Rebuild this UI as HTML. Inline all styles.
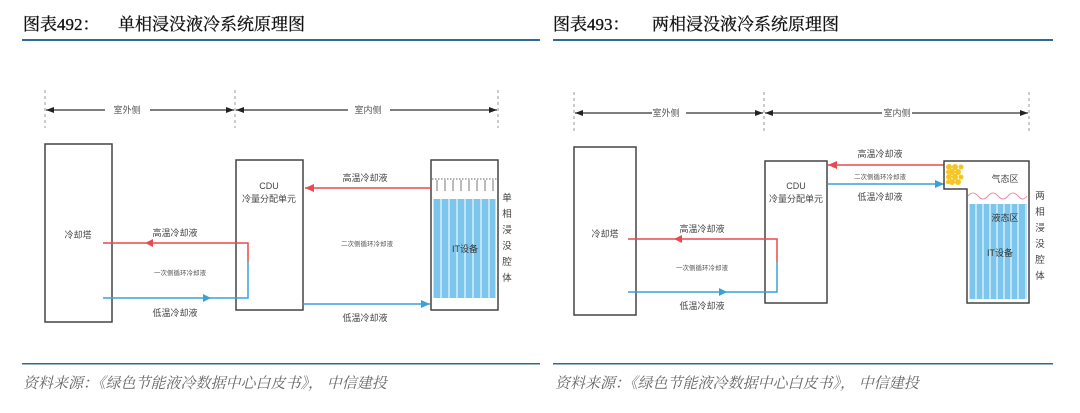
<!DOCTYPE html>
<html><head><meta charset="utf-8"><style>
html,body{margin:0;padding:0;background:#fff;}
body{width:1080px;height:408px;overflow:hidden;}
svg text{font-family:"Liberation Sans","Noto Sans CJK SC",sans-serif;}
.t{font-family:"Liberation Serif","Noto Serif CJK SC",serif !important;font-size:17px;fill:#111;stroke:#111;stroke-width:0.3;}
.f{font-family:"Liberation Serif","Noto Serif CJK SC",serif !important;font-size:15px;fill:#666;font-style:italic;}
</style></head><body>
<svg width="1080" height="408" viewBox="0 0 1080 408" xmlns="http://www.w3.org/2000/svg">
<defs>
<marker id="ak" markerWidth="8" markerHeight="6" refX="8" refY="3" orient="auto" markerUnits="userSpaceOnUse"><path d="M0,0 L8,3 L0,6z" fill="#222"/></marker>
</defs>
<text class="t" x="23" y="30">图表492：</text>
<text class="t" x="118" y="30">单相浸没液冷系统原理图</text>
<text class="t" x="553" y="30">图表493：</text>
<text class="t" x="652" y="30">两相浸没液冷系统原理图</text>
<rect x="22" y="39" width="518" height="2" fill="#2e6a96"/>
<rect x="553" y="39" width="500" height="2" fill="#2e6a96"/>
<rect x="22" y="363" width="518" height="1.5" fill="#2e6a96"/>
<rect x="553" y="363" width="500" height="1.5" fill="#2e6a96"/>
<text class="f" x="23" y="388">资料来源：《绿色节能液冷数据中心白皮书》， 中信建投</text>
<text class="f" x="555" y="388">资料来源：《绿色节能液冷数据中心白皮书》， 中信建投</text>

<g stroke="#999" stroke-dasharray="3,3" stroke-width="1">
<line x1="45" y1="90" x2="45" y2="128"/><line x1="235" y1="90" x2="235" y2="128"/><line x1="498" y1="90" x2="498" y2="128"/>
<line x1="574" y1="92" x2="574" y2="131"/><line x1="764" y1="92" x2="764" y2="131"/><line x1="1029" y1="92" x2="1029" y2="131"/>
</g>
<g stroke="#333" stroke-width="1.2">
<line x1="105" y1="110" x2="46" y2="110" marker-end="url(#ak)"/>
<line x1="150" y1="110" x2="234" y2="110" marker-end="url(#ak)"/>
<line x1="348" y1="110" x2="236" y2="110" marker-end="url(#ak)"/>
<line x1="390" y1="110" x2="497" y2="110" marker-end="url(#ak)"/>
<line x1="652" y1="113" x2="575" y2="113" marker-end="url(#ak)"/>
<line x1="686" y1="113" x2="763" y2="113" marker-end="url(#ak)"/>
<line x1="882" y1="113" x2="765" y2="113" marker-end="url(#ak)"/>
<line x1="912" y1="113" x2="1028" y2="113" marker-end="url(#ak)"/>
</g>
<g font-size="9" fill="#555">
<text x="127" y="113" text-anchor="middle">室外侧</text>
<text x="368" y="113" text-anchor="middle">室内侧</text>
<text x="666" y="116" text-anchor="middle">室外侧</text>
<text x="897" y="116" text-anchor="middle">室内侧</text>
</g>
<g fill="none" stroke="#444" stroke-width="1.5">
<rect x="45" y="144" width="67" height="178"/>
<rect x="236" y="160" width="67" height="150"/>
<rect x="431" y="160" width="67" height="150"/>
<rect x="574" y="147" width="62" height="168"/>
<rect x="765" y="161" width="62" height="142"/>
</g>
<rect x="433" y="199" width="63" height="99" fill="#bfe4f7"/>
<g fill="#7cc6ee">
<rect x="434" y="199" width="6" height="99"/><rect x="442" y="199" width="6" height="99"/><rect x="450" y="199" width="6" height="99"/><rect x="458" y="199" width="6" height="99"/><rect x="466" y="199" width="6" height="99"/><rect x="474" y="199" width="6" height="99"/><rect x="482" y="199" width="6" height="99"/><rect x="490" y="199" width="5" height="99"/>
</g>
<line x1="432" y1="179" x2="497" y2="179" stroke="#666" stroke-dasharray="1.5,1.5"/>
<g stroke="#555" stroke-width="0.8">
<line x1="437" y1="180" x2="437" y2="191"/><line x1="445" y1="180" x2="445" y2="191"/><line x1="453" y1="180" x2="453" y2="191"/><line x1="461" y1="180" x2="461" y2="191"/><line x1="469" y1="180" x2="469" y2="191"/><line x1="477" y1="180" x2="477" y2="191"/><line x1="485" y1="180" x2="485" y2="191"/><line x1="493" y1="180" x2="493" y2="191"/>
</g>
<g stroke-width="1.5" fill="none">
<polyline points="103,243 248,243 248,262" stroke="#e84a4f"/>
<polyline points="248,262 248,298 103,298" stroke="#3aa0d8"/>
<line x1="431" y1="188" x2="305" y2="188" stroke="#e84a4f"/>
<line x1="303" y1="304" x2="430" y2="304" stroke="#3aa0d8"/>
<polyline points="628,239 777,239 777,262" stroke="#e84a4f"/>
<polyline points="777,262 777,292 628,292" stroke="#3aa0d8"/>
<line x1="944" y1="165" x2="828" y2="165" stroke="#e84a4f"/>
<line x1="828" y1="184" x2="944" y2="184" stroke="#3aa0d8"/>
</g>
<g>
<path d="M145,243 l8,-4 v8z" fill="#e84a4f"/>
<path d="M211,298 l-8,-4 v8z" fill="#3aa0d8"/>
<path d="M305,188 l9,-4 v8z" fill="#e84a4f"/>
<path d="M430,304 l-9,-4 v8z" fill="#3aa0d8"/>
<path d="M674,239 l8,-4 v8z" fill="#e84a4f"/>
<path d="M727,292 l-8,-4 v8z" fill="#3aa0d8"/>
<path d="M828,165 l9,-4 v8z" fill="#e84a4f"/>
<path d="M944,184 l-9,-4 v8z" fill="#3aa0d8"/>
</g>
<g font-size="9" fill="#444">
<text x="78" y="238" text-anchor="middle">冷却塔</text>
<text x="269" y="189" text-anchor="middle">CDU</text>
<text x="269" y="202" text-anchor="middle">冷量分配单元</text>
<text x="175" y="236" text-anchor="middle">高温冷却液</text>
<text x="175" y="316" text-anchor="middle">低温冷却液</text>
<text x="365" y="181" text-anchor="middle">高温冷却液</text>
<text x="365" y="321" text-anchor="middle">低温冷却液</text>
<text x="465" y="252" text-anchor="middle" fill="#333">IT设备</text>
<text x="605" y="237" text-anchor="middle">冷却塔</text>
<text x="796" y="189" text-anchor="middle">CDU</text>
<text x="796" y="202" text-anchor="middle">冷量分配单元</text>
<text x="702" y="232" text-anchor="middle">高温冷却液</text>
<text x="702" y="309" text-anchor="middle">低温冷却液</text>
<text x="880" y="157" text-anchor="middle">高温冷却液</text>
<text x="880" y="200" text-anchor="middle">低温冷却液</text>
<text x="1005" y="182" text-anchor="middle">气态区</text>
</g>
<g font-size="6.5" fill="#555">
<text x="180" y="275" text-anchor="middle">一次侧循环冷却液</text>
<text x="367" y="246" text-anchor="middle">二次侧循环冷却液</text>
<text x="702" y="270" text-anchor="middle">一次侧循环冷却液</text>
<text x="880" y="179" text-anchor="middle">二次侧循环冷却液</text>
</g>
<g font-size="9.5" fill="#444" text-anchor="middle">
<text x="507" y="201">单</text><text x="507" y="217">相</text><text x="507" y="233">浸</text><text x="507" y="249">没</text><text x="507" y="265">腔</text><text x="507" y="281">体</text>
<text x="1040" y="199">两</text><text x="1040" y="215">相</text><text x="1040" y="231">浸</text><text x="1040" y="247">没</text><text x="1040" y="263">腔</text><text x="1040" y="279">体</text>
</g>
<rect x="969" y="204" width="58" height="95" fill="#bfe4f7"/>
<g fill="#7cc6ee">
<rect x="970" y="204" width="5" height="95"/><rect x="977" y="204" width="5" height="95"/><rect x="984" y="204" width="5" height="95"/><rect x="991" y="204" width="5" height="95"/><rect x="998" y="204" width="5" height="95"/><rect x="1005" y="204" width="5" height="95"/><rect x="1012" y="204" width="5" height="95"/><rect x="1019" y="204" width="6" height="95"/>
</g>
<path d="M968,196 q5,-6 10,0 t10,0 t10,0 t10,0 t10,0 t9,0" fill="none" stroke="#e58fa8" stroke-width="1"/>
<g fill="#f5c622">
<circle cx="949" cy="167" r="3"/><circle cx="955" cy="167" r="3"/><circle cx="961" cy="167" r="2.5"/>
<circle cx="952" cy="172" r="3"/><circle cx="958" cy="172" r="3"/><circle cx="948" cy="172" r="2"/>
<circle cx="949" cy="177" r="3"/><circle cx="955" cy="177" r="3"/><circle cx="961" cy="177" r="2.5"/>
<circle cx="952" cy="182" r="3"/><circle cx="958" cy="182" r="3"/><circle cx="948" cy="182" r="2"/>
</g>
<path d="M944,161 H1029 V303 H967 V189 H944 Z" fill="none" stroke="#444" stroke-width="1.5"/>
<g font-size="9" fill="#333" text-anchor="middle">
<text x="1005" y="221">液态区</text>
<text x="1000" y="256">IT设备</text>
</g>
</svg>
</body></html>
